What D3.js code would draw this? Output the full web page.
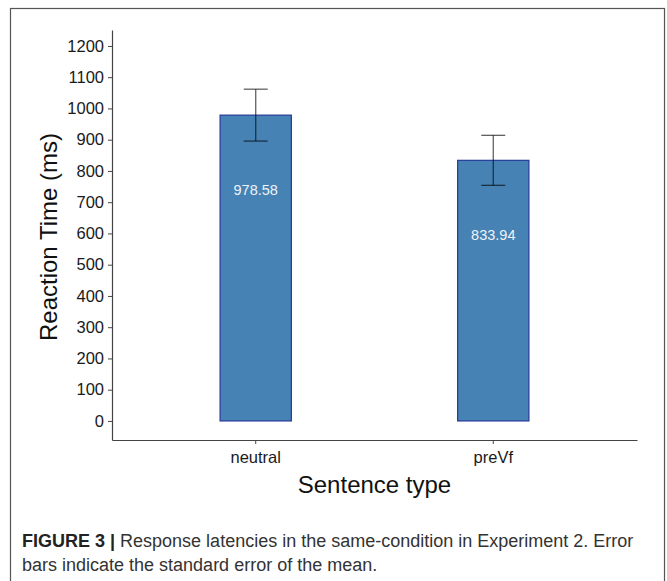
<!DOCTYPE html>
<html>
<head>
<meta charset="utf-8">
<script src="https://cdn.jsdelivr.net/npm/d3@7"></script>
<style>
  html, body { margin: 0; padding: 0; background: #fff; }
  svg { display: block; }
</style>
</head>
<body>
<svg id="chart" width="667" height="581"></svg>
<script>
// Mean reaction time per sentence type, with standard error
const categories = ["neutral", "preVf"];
const means = [978.58, 833.94];
const stdErrors = [83, 80];
const yTicks = [0, 100, 200, 300, 400, 500, 600, 700, 800, 900, 1000, 1100, 1200];

const svg = d3.select("#chart");
const font = "'Liberation Sans', Arial, sans-serif";

// Figure frame
svg.append("rect")
  .attr("x", 10.5).attr("y", 8.5)
  .attr("width", 654).attr("height", 590)
  .attr("fill", "none").attr("stroke", "#555").attr("stroke-width", 1.2);

const plot = { left: 112, right: 637, top: 30, bottom: 440 };

const x = d3.scaleBand()
  .domain(categories)
  .range([plot.left, plot.right])
  .paddingInner(0.70)
  .paddingOuter(0.455);

const y = d3.scaleLinear()
  .domain([-61, 1251])
  .range([plot.bottom, plot.top]);

// Axes
const yAxis = svg.append("g")
  .attr("transform", `translate(${plot.left},0)`)
  .call(d3.axisLeft(y).tickValues(yTicks).tickFormat(d3.format("d"))
    .tickSize(4).tickPadding(4).tickSizeOuter(0));
yAxis.select(".domain").attr("stroke", "#444").attr("stroke-width", 1.2);
yAxis.selectAll(".tick line").attr("stroke", "#444");
yAxis.selectAll(".tick text")
  .attr("font-family", font).attr("font-size", 16.5).attr("fill", "#1a1a1a");

const xAxis = svg.append("g")
  .attr("transform", `translate(0,${plot.bottom})`)
  .call(d3.axisBottom(x).tickSize(4).tickPadding(4).tickSizeOuter(0));
xAxis.select(".domain").attr("stroke", "#444").attr("stroke-width", 1.2);
xAxis.selectAll(".tick line").attr("stroke", "#444");
xAxis.selectAll(".tick text")
  .attr("font-family", font).attr("font-size", 16.5).attr("fill", "#1a1a1a")
  .attr("dy", "0.9em");

// Bars
const rows = categories.map((c, i) => ({ c, m: means[i], se: stdErrors[i] }));

svg.append("g").selectAll("rect")
  .data(rows).join("rect")
  .attr("x", d => x(d.c))
  .attr("y", d => y(d.m))
  .attr("width", x.bandwidth())
  .attr("height", d => y(0) - y(d.m))
  .attr("fill", "#4682B4")
  .attr("stroke", "#26389a")
  .attr("stroke-width", 1.2);

// Value labels inside the bars
svg.append("g").selectAll("text")
  .data(rows).join("text")
  .attr("x", d => x(d.c) + x.bandwidth() / 2)
  .attr("y", d => y(d.m - 240))
  .attr("text-anchor", "middle")
  .attr("dy", "0.35em")
  .attr("font-family", font).attr("font-size", 14.5)
  .attr("fill", "#eef2f6")
  .text(d => d.m.toFixed(2));

// Error bars (mean ± SE)
const eb = svg.append("g")
  .attr("stroke", "#000").attr("stroke-opacity", 0.62).attr("stroke-width", 1.3)
  .selectAll("g").data(rows).join("g");
const cap = 12;
eb.append("line")
  .attr("x1", d => x(d.c) + x.bandwidth() / 2).attr("x2", d => x(d.c) + x.bandwidth() / 2)
  .attr("y1", d => y(d.m + d.se)).attr("y2", d => y(d.m - d.se));
eb.append("line")
  .attr("x1", d => x(d.c) + x.bandwidth() / 2 - cap).attr("x2", d => x(d.c) + x.bandwidth() / 2 + cap)
  .attr("y1", d => y(d.m + d.se)).attr("y2", d => y(d.m + d.se));
eb.append("line")
  .attr("x1", d => x(d.c) + x.bandwidth() / 2 - cap).attr("x2", d => x(d.c) + x.bandwidth() / 2 + cap)
  .attr("y1", d => y(d.m - d.se)).attr("y2", d => y(d.m - d.se));

// Axis titles
svg.append("text")
  .attr("transform", `translate(57,${(plot.top + plot.bottom) / 2 + 2}) rotate(-90)`)
  .attr("text-anchor", "middle")
  .attr("font-family", font).attr("font-size", 24).attr("fill", "#111")
  .text("Reaction Time (ms)");

svg.append("text")
  .attr("x", (plot.left + plot.right) / 2)
  .attr("y", 493)
  .attr("text-anchor", "middle")
  .attr("font-family", font).attr("font-size", 24).attr("fill", "#111")
  .text("Sentence type");

// Caption
const capFont = "'Liberation Sans Narrow', 'Arial Narrow', 'Liberation Sans', sans-serif";
const c1 = svg.append("text")
  .attr("x", 22).attr("y", 547)
  .attr("font-family", capFont).attr("font-size", 18).attr("fill", "#333");
c1.append("tspan").attr("font-weight", "bold").attr("fill", "#222").text("FIGURE 3 | ");
c1.append("tspan").text("Response latencies in the same-condition in Experiment 2. Error");
svg.append("text")
  .attr("x", 22).attr("y", 571)
  .attr("font-family", capFont).attr("font-size", 18).attr("fill", "#333")
  .text("bars indicate the standard error of the mean.");
</script>
</body>
</html>
